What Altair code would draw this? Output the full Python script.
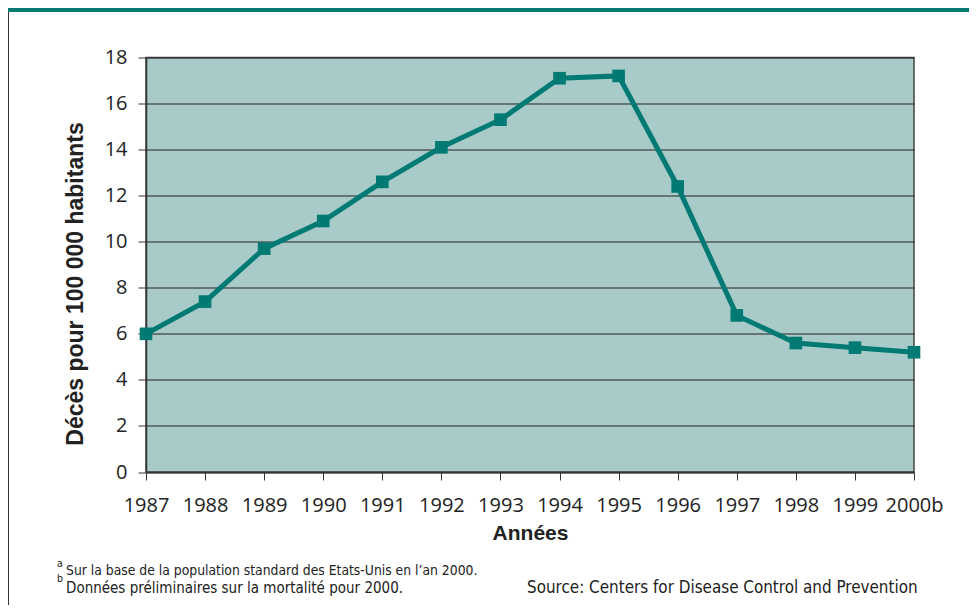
import altair as alt
import pandas as pd

# ---- data ----
years = ["1987", "1988", "1989", "1990", "1991", "1992", "1993",
         "1994", "1995", "1996", "1997", "1998", "1999", "2000b"]
rates = [6.0, 7.4, 9.7, 10.9, 12.6, 14.1, 15.3,
         17.1, 17.2, 12.4, 6.8, 5.6, 5.4, 5.2]
y_ticks = [0, 2, 4, 6, 8, 10, 12, 14, 16, 18]

y_title = "Décès pour 100 000 habitants"
x_title = "Années"
note_a = "Sur la base de la population standard des Etats-Unis en l’an 2000."
note_b = "Données préliminaires sur la mortalité pour 2000."
source = "Source: Centers for Disease Control and Prevention"

TEAL = "#007A73"
BG = "#A8CBC9"
DARK = "#222222"
LABEL_FONT = "Open Sans, sans-serif"
NARROW = "DejaVu Sans Condensed, Liberation Sans Narrow, sans-serif"
BOLD = "Liberation Sans, Arial, sans-serif"

W, H = 768, 414.5
PAD_L, PAD_T = 138, 49.5
PAD_R = 961 - PAD_L - W
PAD_B = 597 - PAD_T - H

df = pd.DataFrame({"year": years, "rate": rates})

x_enc = alt.X(
    "year:O", sort=years,
    scale=alt.Scale(type="point", padding=0),
    axis=alt.Axis(
        title=x_title, labelAngle=0, labelFont=LABEL_FONT, labelFontSize=20,
        labelColor=DARK, labelBaseline="alphabetic", labelPadding=31,
        tickSize=8, tickColor="#333", domainColor="#333", domainWidth=1.5,
        titleFont=BOLD, titleFontSize=21, titleFontWeight="bold",
        titleColor=DARK, titleX=W / 2, titleY=67, titleBaseline="alphabetic",
        titleAlign="center", grid=False,
    ),
)
y_enc = alt.Y(
    "rate:Q",
    scale=alt.Scale(domain=[0, 18], nice=False, zero=True),
    axis=alt.Axis(
        title=y_title, values=y_ticks, labelFont=LABEL_FONT, labelFontSize=20,
        labelColor=DARK, labelPadding=11, tickSize=8, tickColor="#333",
        domainColor="#333", domainWidth=1.5,
        grid=True, gridColor=DARK, gridWidth=1.2,
        titleFont=BOLD, titleFontSize=23, titleFontWeight="bold",
        titleColor=DARK, titleAngle=-90, titleX=-71, titleY=226,
        titleAlign="center", titleBaseline="middle",
    ),
)

line = alt.Chart(df).mark_line(color=TEAL, strokeWidth=5).encode(x=x_enc, y=y_enc)
pts = alt.Chart(df).mark_square(color=TEAL, size=160, opacity=1, filled=True).encode(x=x_enc, y=y_enc)

one = pd.DataFrame({"k": [0]})

header = alt.Chart(one).mark_rect(color=TEAL).encode(
    x=alt.value(-PAD_L), x2=alt.value(W + PAD_R),
    y=alt.value(-PAD_T), y2=alt.value(-PAD_T + 4),
)
border = alt.Chart(one).mark_rule(color="#333", strokeWidth=1).encode(
    x=alt.value(-PAD_L + 0.5), y=alt.value(-PAD_T + 4), y2=alt.value(H + PAD_B),
)

def txt(s, x, y, size, font=NARROW, align="left"):
    return alt.Chart(pd.DataFrame({"t": [s]})).mark_text(
        font=font, fontSize=size, color=DARK, align=align, baseline="middle"
    ).encode(text="t:N", x=alt.value(x), y=alt.value(y))

notes = [
    txt("a", 57 - 8 - PAD_L, 564 - 8 - PAD_T, 10.5),
    txt(note_a, 66 - 8 - PAD_L, 571 - 8 - PAD_T, 13.8),
    txt("b", 57 - 8 - PAD_L, 579 - 8 - PAD_T, 10.5),
    txt(note_b, 66 - 8 - PAD_L, 587.5 - 8 - PAD_T, 15),
    txt(source, 527 - 8 - PAD_L, 587.5 - 8 - PAD_T, 16.9),
]

chart = alt.layer(header, border, line, pts, *notes).properties(
    width=W, height=H,
    padding={"left": PAD_L, "top": PAD_T, "right": PAD_R, "bottom": PAD_B},
    autosize=alt.AutoSizeParams(type="none"),
    background="white",
).configure_view(fill=BG, stroke="#444", strokeWidth=1.5)

chart.save("out.html", embed_options={"renderer": "svg", "actions": False})
